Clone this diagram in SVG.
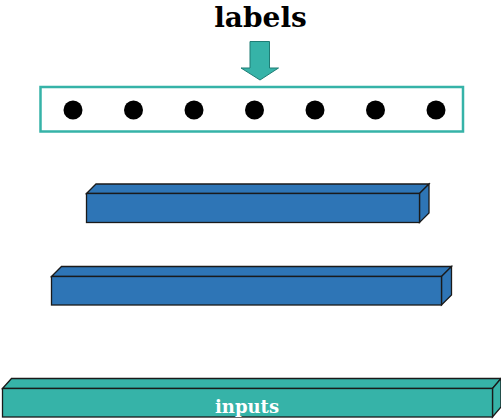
<svg xmlns="http://www.w3.org/2000/svg" width="501" height="419" viewBox="0 0 501 419">
  <style>
    .lbl { font-family: "DejaVu Serif", "Liberation Serif", serif; font-weight: bold; text-anchor: middle; }
    .slab { stroke: #1a1a1a; stroke-width: 1.3; stroke-linejoin: miter; }
    .blue { fill: #2e75b6; }
    .teal { fill: #36b3a8; }
    .dot { fill: #000; }
  </style>

  <!-- output label and arrow -->
  <g id="labels">
    <text class="lbl" x="260.5" y="27" font-size="28" fill="#000">labels</text>
  </g>
  <g id="connectors">
    <path d="M250,41.5 H269.5 V68 H278.5 L260,80 L241,68 H250 Z" fill="#36b3a8" stroke="#1f7d75" stroke-width="1"/>
  </g>

  <!-- output units -->
  <g id="output-layer">
    <rect x="40.5" y="87" width="422.5" height="44.5" fill="#fff" stroke="#36b3a8" stroke-width="2.5"/>
    <circle class="dot" cx="73" cy="110" r="9.5"/>
    <circle class="dot" cx="133.5" cy="110" r="9.5"/>
    <circle class="dot" cx="194" cy="110" r="9.5"/>
    <circle class="dot" cx="254.5" cy="110" r="9.5"/>
    <circle class="dot" cx="315" cy="110" r="9.5"/>
    <circle class="dot" cx="375.5" cy="110" r="9.5"/>
    <circle class="dot" cx="436" cy="110" r="9.5"/>
  </g>

  <!-- hidden layer 2 -->
  <g id="hidden-2">
    <path class="slab blue" d="M86.5,193.5 L96,184 H429 L419.5,193.5 Z"/>
    <path class="slab blue" d="M419.5,193.5 L429,184 V213 L419.5,222.5 Z"/>
    <rect class="slab blue" x="86.5" y="193.5" width="333" height="29"/>
  </g>

  <!-- hidden layer 1 -->
  <g id="hidden-1">
    <path class="slab blue" d="M51.5,276.5 L61.5,266.5 H451.5 L441.5,276.5 Z"/>
    <path class="slab blue" d="M441.5,276.5 L451.5,266.5 V295 L441.5,305 Z"/>
    <rect class="slab blue" x="51.5" y="276.5" width="390" height="28.5"/>
  </g>

  <!-- input layer -->
  <g id="inputs">
    <path class="slab teal" d="M2.5,388.5 L11.5,378.5 H501 L492.5,388.5 Z"/>
    <path class="slab teal" d="M492.5,388.5 L501,378.5 V407 L492.5,417 Z"/>
    <rect class="slab teal" x="2.5" y="388.5" width="490" height="28.5"/>
    <text class="lbl" x="247" y="413" font-size="18" fill="#fff">inputs</text>
  </g>
</svg>
